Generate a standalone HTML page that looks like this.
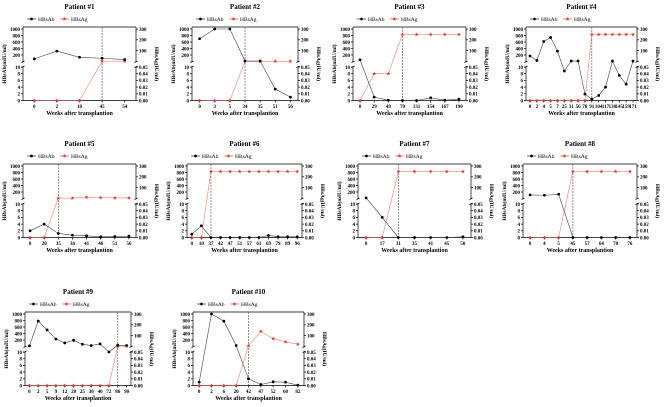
<!DOCTYPE html>
<html><head><meta charset="utf-8"><style>
body{margin:0;background:#fff}
svg{display:block;font-family:"Liberation Serif",serif;font-weight:bold}
</style></head><body>
<svg id="c" width="669" height="407" viewBox="0 0 669 407"></svg>
<script>
const patientNames=["Patient #1","Patient #2","Patient #3","Patient #4","Patient #5","Patient #6","Patient #7","Patient #8","Patient #9","Patient #10"];
const weeks=[
[0,2,10,45,54],
[0,3,5,34,35,51,56],
[0,29,49,70,131,154,167,190],
[0,2,4,5,7,25,31,56,78,91,104,117,130,145,159,171],
[0,20,35,36,41,46,51,56],
[0,10,37,42,47,51,57,61,69,79,89,96],
[0,17,31,35,41,45,50],
[0,4,5,45,57,64,70,76],
[0,2,5,9,12,20,25,30,40,72,86,90],
[0,2,6,20,42,47,52,60,82]];
const hbsAb=[
[80,320,130,100,60],
[700,1000,1000,15,15,3.4,1],
[50,1,0.1,0,0,0.8,0.1,0.4],
[170,30,615,740,320,8.8,15,15,1.9,0.4,1.5,4,15,7.5,4.9,15],
[2,4,1.2,0.7,0.5,0.2,0.3,0.4],
[1,3.5,0,0,0,0,0,0,0.6,0.2,0.2,0.2],
[20,6,0,0,0,0,0.2],
[110,100,130,0,0,0,0,0],
[20,785,510,230,110,190,70,30,80,10,40,30],
[1,1000,780,30,2,0.3,1.1,1,0.1]];
const hbsAg=[
[0,0,0,3,3],
[0,0,0,1,1,2,2],
[0,0.04,0.04,250,250,250,250,250],
[0,0,0,0,0,0,0,0,0,250,250,250,250,250,250,250],
[0,0,3,4,12,8,5,5],
[0,0,250,250,250,250,250,250,250,250,250,250],
[0,0,250,250,250,250,250],
[0,0,0,250,250,250,250,250],
[0,0,0,0,0,0,0,0,0,0,3,3],
[0,0,0,0,6,140,73,42,21]];
const transplantIdx=[3,3,3,9,2,2,2,3,10,4];
const leftTicksUpper=[200,400,600,800,1000];
const leftTicksLower=[0,2,4,6,8,10];
const rightTicksUpper=[100,200,300];
const rightTicksLower=["0.00","0.01","0.02","0.03","0.04","0.05"];

const layout=[[23,136,0],[192,298,0],[353,466,0],[526,637,0],[23,136,137],[187,302,137],[358,471,137],[523,637,137],[25,131,285],[193,304,285]];
const NS="http://www.w3.org/2000/svg";
const svg=document.getElementById('c');
function mk(t,a,p){const e=document.createElementNS(NS,t);for(const k in a)e.setAttribute(k,a[k]);(p||svg).appendChild(e);return e;}
const UT=29,UZ=61.5,LT=67,LZ=100.5;
function yAb(v,o){return v<=10?o+LZ-v/10*(LZ-LT):o+UZ-v/1000*(UZ-UT);}
function yAg(v,o){return v<=0.05?o+LZ-v/0.05*(LZ-LT):o+UZ-v/300*(UZ-UT);}
function star(g,x,y){const pts=[];for(let i=0;i<10;i++){const r=i%2?0.9:2.1;const a=-Math.PI/2+i*Math.PI/5;pts.push((x+r*Math.cos(a)).toFixed(2)+","+(y+r*Math.sin(a)).toFixed(2));}return mk('polygon',{points:pts.join(' '),fill:'#e8302a'},g);}

patientNames.forEach((name,p)=>{
  const [L,R,o]=layout[p];
  const g=mk('g',{});
  
  
  const n=weeks[p].length;const pad=Math.max((R-L)/n*0.5,4);
  const xs=i=>L+pad+i*(R-L-2*pad)/(n-1);
  const t=mk('text',{x:(L+R)/2,y:o+9,'font-size':7,'text-anchor':'middle'},g);t.textContent=name;
  
  // legend
  const lg=mk('g',{},g);
  mk('line',{x1:L+4,x2:L+13,y1:o+19,y2:o+19,stroke:'#000','stroke-width':0.6},lg);
  mk('circle',{cx:L+8.5,cy:o+19,r:1.4,fill:'#000'},lg);
  let lt=mk('text',{x:L+15,y:o+21,'font-size':5.5,'font-weight':'normal'},lg);lt.textContent='HBsAb';
  mk('line',{x1:L+37,x2:L+46,y1:o+19,y2:o+19,stroke:'#e8302a','stroke-width':0.6},lg);
  star(lg,L+41.5,o+19);
  lt=mk('text',{x:L+48,y:o+21,'font-size':5.5,'font-weight':'normal'},lg);lt.textContent='HBsAg';
  // axes
  const ax=mk('g',{stroke:'#000','stroke-width':0.7,fill:'none'},g);
  
  mk('line',{x1:L,x2:L,y1:o+27,y2:o+UZ},ax);mk('line',{x1:L,x2:L,y1:o+LT,y2:o+LZ},ax);
  mk('line',{x1:R,x2:R,y1:o+27,y2:o+UZ},ax);mk('line',{x1:R,x2:R,y1:o+LT,y2:o+LZ},ax);
  mk('line',{x1:L,x2:R,y1:o+LZ,y2:o+LZ},ax);mk('line',{x1:L,x2:R,y1:o+27,y2:o+27},ax);
  [L,R].forEach(x=>{mk('line',{x1:x-1.5,x2:x+1.5,y1:o+UZ+1,y2:o+UZ-0.5},ax);mk('line',{x1:x-1.5,x2:x+1.5,y1:o+LT+0.5,y2:o+LT-1},ax);});
  leftTicksUpper.forEach(v=>{const y=yAb(v,o);mk('line',{x1:L-2,x2:L,y1:y,y2:y},ax);const tt=mk('text',{x:L-3,y:y+1.8,'font-size':5,'text-anchor':'end',stroke:'none',fill:'#000'},g);tt.textContent=v;});
  leftTicksLower.forEach(v=>{const y=yAb(v,o);mk('line',{x1:L-2,x2:L,y1:y,y2:y},ax);const tt=mk('text',{x:L-3,y:y+1.8,'font-size':5,'text-anchor':'end',fill:'#000'},g);tt.textContent=v;});
  rightTicksUpper.forEach(v=>{const y=yAg(v,o);mk('line',{x1:R,x2:R+2,y1:y,y2:y},ax);const tt=mk('text',{x:R+3,y:y+1.8,'font-size':5,fill:'#000'},g);tt.textContent=v;});
  rightTicksLower.forEach(v=>{const y=yAg(+v,o);mk('line',{x1:R,x2:R+2,y1:y,y2:y},ax);const tt=mk('text',{x:R+3,y:y+1.8,'font-size':5,fill:'#000'},g);tt.textContent=v;});
  weeks[p].forEach((w,i)=>{const x=xs(i);mk('line',{x1:x,x2:x,y1:o+LZ,y2:o+LZ+2},ax);const tt=mk('text',{x:x,y:o+108,'font-size':5,'text-anchor':'middle',fill:'#000'},g);tt.textContent=w;});
  let at=mk('text',{x:(L+R)/2,y:o+115,'font-size':6,'text-anchor':'middle'},g);at.textContent='Weeks after transplantion';
  
  at=mk('text',{x:0,y:0,'font-size':5.5,'text-anchor':'middle',transform:`translate(${L-17},${o+64}) rotate(-90)`},g);at.textContent='HBsAb(mIU/ml)';
  
  at=mk('text',{x:0,y:0,'font-size':5.5,'text-anchor':'middle',transform:`translate(${R+19},${o+64}) rotate(90)`},g);at.textContent='HBsAg(IU/ml)';
  
  // dashed transplant line
  const dx=xs(transplantIdx[p]);
  const dl=mk('line',{x1:dx,x2:dx,y1:o+27,y2:o+LZ,stroke:'#666','stroke-width':0.7,'stroke-dasharray':'2,1'},g);
  
  // series
  const ag=mk('polyline',{points:hbsAg[p].map((v,i)=>xs(i)+','+yAg(v,o)).join(' '),fill:'none',stroke:'#f08070','stroke-width':0.6},g);
  
  const ab=mk('polyline',{points:hbsAb[p].map((v,i)=>xs(i)+','+yAb(v,o)).join(' '),fill:'none',stroke:'#444','stroke-width':0.6},g);
  
  hbsAg[p].forEach((v,i)=>{const s=star(g,xs(i),yAg(v,o));
    
    });
  hbsAb[p].forEach((v,i)=>{const c=mk('circle',{cx:xs(i),cy:yAb(v,o),r:1.4,fill:'#000'},g);
    
    });
});
</script>
</body></html>
